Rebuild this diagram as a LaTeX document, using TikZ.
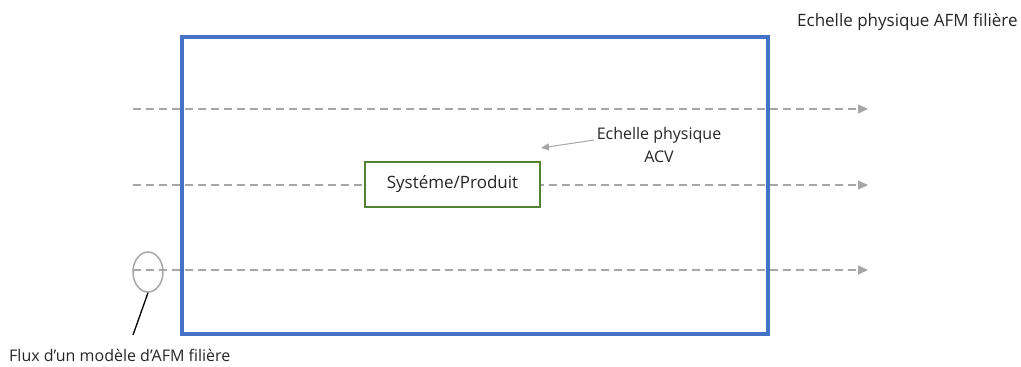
\documentclass[tikz,border=0pt]{standalone}
\usepackage{fontspec}
\setmainfont{Open Sans}
\usetikzlibrary{arrows.meta,shapes.geometric}
\definecolor{blueframe}{HTML}{4472C4}
\definecolor{greenbox}{HTML}{548235}
\definecolor{flowgray}{HTML}{A6A6A6}
\begin{document}
\begin{tikzpicture}[x=1pt,y=-1pt,
  flow/.style={draw=flowgray,line width=1.3pt,dash pattern=on 8pt off 5pt,-{Triangle[length=10pt,width=9pt]}},
  lbl/.style={font=\fontsize{16}{20}\selectfont,text=black!85,inner sep=0pt},
  lblbig/.style={font=\fontsize{17}{21}\selectfont,text=black!85,inner sep=0pt}]
\useasboundingbox (0,0) rectangle (1021,367);
\draw[blueframe,line width=3.5pt] (182,37) rectangle (768,334);
\coordinate (s1) at (133,109); \coordinate (e1) at (868,109);
\coordinate (s2) at (133,185); \coordinate (e2) at (868,185);
\coordinate (s3) at (133,270); \coordinate (e3) at (868,270);
\draw[flow] (s1) -- (e1);
\draw[flow] (s2) -- (e2);
\draw[flow] (s3) -- (e3);
\node[draw=greenbox,line width=1.8pt,fill=white,minimum width=175pt,minimum height=45pt,lblbig] (sys) at (452.5,184.5) {Systéme/Produit};
\node[lbl,align=center] (acv) at (659,145) {Echelle physique\\[3pt]ACV};
\coordinate (acvtip) at (541,148);
\draw[flowgray,line width=1pt,-{Triangle[length=8pt,width=7pt]}] (594,140) -- (acvtip);
\node[draw=flowgray,line width=1.5pt,ellipse,minimum width=30pt,minimum height=40pt,inner sep=0pt] (ell) at (148,272) {};
\node[lbl,anchor=west] (flux) at (9,355) {Flux d’un modèle d’AFM filière};
\draw[black,line width=1.3pt] (ell.south) -- (133,335);
\node[lblbig,anchor=west] (afm) at (797,22) {Echelle physique AFM filière};
\end{tikzpicture}
\end{document}
